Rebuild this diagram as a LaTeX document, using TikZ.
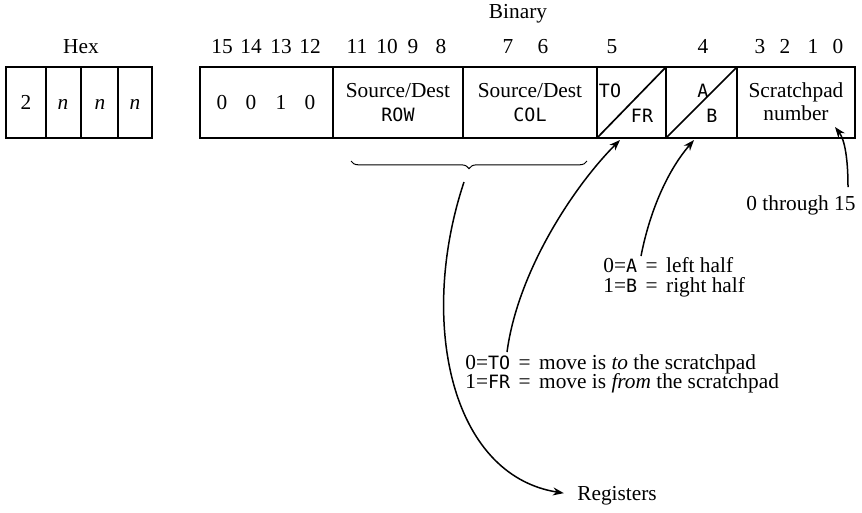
\documentclass[tikz,border=0pt]{standalone}
\usepackage{fontspec}
\setmainfont{Liberation Serif}
\newfontfamily\codefont{DejaVu Sans Mono}
\usetikzlibrary{arrows.meta,decorations.pathreplacing}
\newcommand{\code}[1]{{\codefont\fontsize{11}{13}\selectfont #1}}
\newcommand{\eqs}{\hspace{0.4em}=\hspace{0.4em}}

\begin{document}
\begin{tikzpicture}[
  x=0.6pt,
  y=-0.6pt,
  line join=miter,
  font=\fontsize{12.8}{15}\selectfont,
  cell/.style={draw=black,line width=1.1pt},
  split/.style={draw=black,line width=1pt},
  label/.style={inner sep=0pt,anchor=base},
  note/.style={inner sep=0pt,anchor=base west},
  pointer/.style={draw=black,line width=0.9pt,-{Stealth[length=2.3mm,width=1.7mm]}},
  bracket/.style={draw=black,line width=0.6pt,decorate,
    decoration={brace,mirror,amplitude=4.6pt}}
]
  \useasboundingbox (0,0) rectangle (862,512);

  % Column headings.
  \node[label] (hexhead) at (81,53) {Hex};
  \node[label] (binhead) at (518,18) {Binary};
  \foreach \b/\x in {15/222,14/251,13/281,12/310,11/357,10/387,9/413,8/441,
                     7/508,6/543,5/612,4/703,3/760,2/785,1/813,0/838} {
    \node[label] (bit\b) at (\x,53) {\b};
  }

  % Hex digit boxes.
  \draw[cell] (6,67) rectangle (152,138);
  \foreach \x in {46,81,118} {
    \draw[cell] (\x,67) -- (\x,138);
  }
  \node[label] (hexa) at (26,109) {2};
  \node[label] (hexb) at (63,109) {\textit{n}};
  \node[label] (hexc) at (100,109) {\textit{n}};
  \node[label] (hexd) at (135,109) {\textit{n}};

  % Binary instruction word.
  \draw[cell] (200,67) rectangle (855,138);
  \foreach \x in {333,463,597,666,737} {
    \draw[cell] (\x,67) -- (\x,138);
  }
  \draw[split] (597,138) -- (666,67);
  \draw[split] (666,138) -- (737,67);

  % Field contents.
  \foreach \b/\x in {0/222,0/251,1/281,0/310} {
    \node[label] at (\x,109) {\b};
  }
  \node[label] (rowtop) at (398,97) {Source/Dest};
  \node[label] (rowbot) at (398,121) {\code{ROW}};
  \node[label] (coltop) at (530,97) {Source/Dest};
  \node[label] (colbot) at (530,121) {\code{COL}};
  \node[label] (tofld) at (610,97) {\code{TO}};
  \node[label] (frfld) at (642,122) {\code{FR}};
  \node[label] (afld) at (703,97) {\code{A}};
  \node[label] (bfld) at (712,122) {\code{B}};
  \node[label] (padtop) at (796,97) {Scratchpad};
  \node[label] (padbot) at (796,120) {number};

  % Brace under the register fields.
  \draw[bracket] (351,161) -- (587,161);
  \coordinate (bracetip) at (464,182);

  % Arrow targets below the fields.
  \coordinate (tofrtip) at (620,140);
  \coordinate (abtip) at (694,140);
  \coordinate (padtip) at (835,127);

  % Explanatory notes.
  \node[anchor=base,inner sep=0pt] (range) at (801,210) {0 through 15};
  \node[note] (anote) at (603,272) {0=\code{A}\eqs left half};
  \node[note] at (603,292) {1=\code{B}\eqs right half};
  \node[note] (tonote) at (465,369) {0=\code{TO}\eqs move is \textit{to} the scratchpad};
  \node[note] at (465,388) {1=\code{FR}\eqs move is \textit{from} the scratchpad};
  \node[note] (regs) at (577,500) {Registers};

  % Pointers.
  \draw[pointer,shorten >=8pt] (bracetip) .. controls (418,320) and (450,475) .. (regs.west);
  \draw[pointer] (507,352) .. controls (518,270) and (575,185) .. (tofrtip);
  \draw[pointer] (641,256) .. controls (650,210) and (668,170) .. (abtip);
  \draw[pointer] (848,187) .. controls (848,160) and (845,140) .. (padtip);
\end{tikzpicture}
\end{document}
